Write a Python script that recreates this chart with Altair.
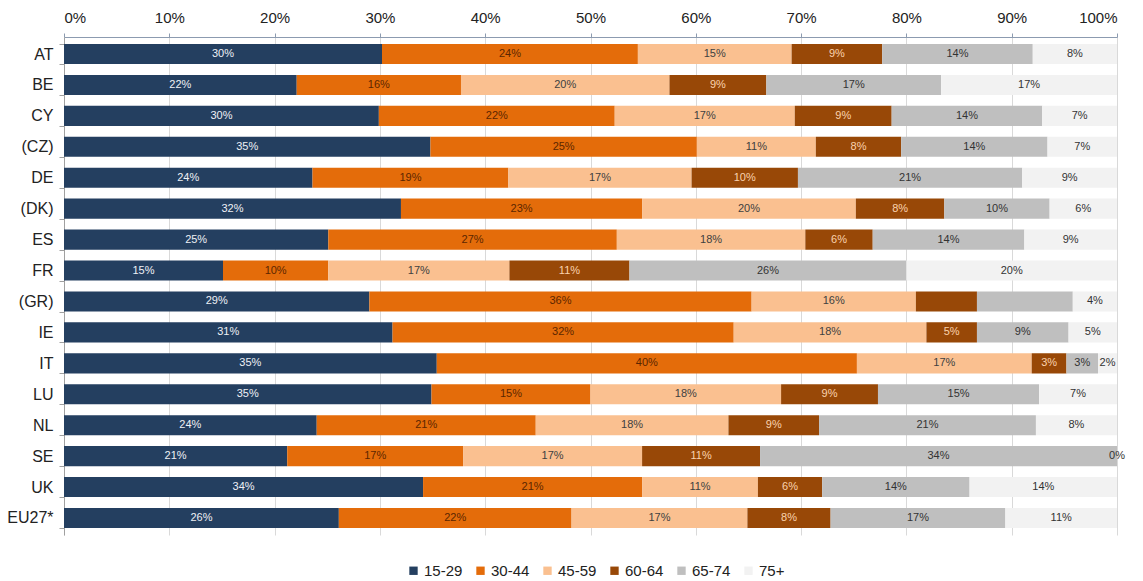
import altair as alt
import pandas as pd

countries = ["AT", "BE", "CY", "(CZ)", "DE", "(DK)", "ES", "FR", "(GR)", "IE",
             "IT", "LU", "NL", "SE", "UK", "EU27*"]
groups = ["15-29", "30-44", "45-59", "60-64", "65-74", "75+"]

v_15_29 = [30.2, 22.1, 29.9, 34.8, 23.6, 32.0, 25.1, 15.1, 29.0, 31.2, 35.4, 34.9, 24.0, 21.2, 34.1, 26.1]
v_30_44 = [24.3, 15.6, 22.4, 25.3, 18.6, 22.9, 27.4, 10.0, 36.3, 32.4, 39.9, 15.1, 20.8, 16.7, 20.8, 22.1]
v_45_59 = [14.6, 19.8, 17.1, 11.3, 17.4, 20.3, 17.9, 17.2, 15.6, 18.3, 16.6, 18.1, 18.3, 17.0, 11.0, 16.7]
v_60_64 = [8.6, 9.2, 9.2, 8.1, 10.1, 8.4, 6.4, 11.4, 5.8, 4.8, 3.3, 9.2, 8.6, 11.2, 6.1, 7.9]
v_65_74 = [14.3, 16.6, 14.3, 13.9, 21.3, 10.0, 14.4, 26.3, 9.1, 8.7, 3.0, 15.3, 20.6, 33.9, 14.0, 16.6]
v_75_plus = [8.0, 16.7, 7.1, 6.6, 9.0, 6.4, 8.8, 20.0, 4.2, 4.6, 1.8, 7.4, 7.7, 0.0, 14.0, 10.6]

# segments whose value label is not printed in the original
hidden_labels = [("(GR)", "60-64"), ("(GR)", "65-74")]

bar_colors = ["#243f60", "#e46c0a", "#fac090", "#984807", "#bfbfbf", "#f2f2f2"]
text_colors = ["#eef0f5", "#5c2600", "#404040", "#fbd3ae", "#333333", "#333333"]

series = [v_15_29, v_30_44, v_45_59, v_60_64, v_65_74, v_75_plus]
rows = []
for gi, (g, vals) in enumerate(zip(groups, series)):
    for c, v in zip(countries, vals):
        lab = "" if (c, g) in hidden_labels else f"{round(v)}%"
        rows.append({"country": c, "group": g, "order": gi, "value": v,
                     "label": lab, "tcol": text_colors[gi]})
df = pd.DataFrame(rows)

font = "Liberation Sans"

base = alt.Chart(df).transform_stack(
    stack="value", groupby=["country"], as_=["start", "end"],
    sort=[alt.SortField("order", "ascending")]
).transform_calculate(mid="(datum.start + datum.end) / 2")

y_enc = alt.Y("country:N", sort=countries,
              scale=alt.Scale(paddingInner=0.35, paddingOuter=0.225),
              axis=alt.Axis(title=None, labelFontSize=16, labelColor="#222222",
                            labelFont=font, domainColor="#a0a0a0", tickColor="#a0a0a0",
                            tickBand="extent", tickSize=5, labelPadding=6, grid=False))

bars = base.mark_bar().encode(
    y=y_enc,
    x=alt.X("start:Q", scale=alt.Scale(domain=[0, 100], nice=False),
            axis=alt.Axis(orient="top", title=None, values=list(range(0, 101, 10)),
                          labelExpr="datum.value + '%'", labelFontSize=15,
                          labelColor="#222222", labelFont=font, grid=True,
                          gridColor="#d9d9d9", domainColor="#8c9bb0", tickColor="#8c9bb0",
                          tickSize=4, labelPadding=8)),
    x2="end:Q",
    color=alt.Color("group:N", scale=alt.Scale(domain=groups, range=bar_colors),
                    legend=alt.Legend(title=None, orient="none", legendX=342, legendY=526,
                                      direction="horizontal", symbolType="square",
                                      symbolSize=70, symbolStrokeWidth=0,
                                      labelFontSize=15, labelFont=font,
                                      labelColor="#222222", columnPadding=10,
                                      labelOffset=3)),
)

text = base.mark_text(fontSize=11, font=font).encode(
    y=alt.Y("country:N", sort=countries),
    x=alt.X("mid:Q"),
    text="label:N",
    color=alt.Color("tcol:N", scale=None),
)

chart = alt.layer(bars, text).resolve_scale(color="independent").properties(
    width=1053, height=498,
    autosize=alt.AutoSizeParams(type="none"),
    padding={"left": 64, "top": 37, "right": 26, "bottom": 46},
).configure_view(stroke=None)

chart.save("out.html", embed_options={"renderer": "svg", "actions": False})
